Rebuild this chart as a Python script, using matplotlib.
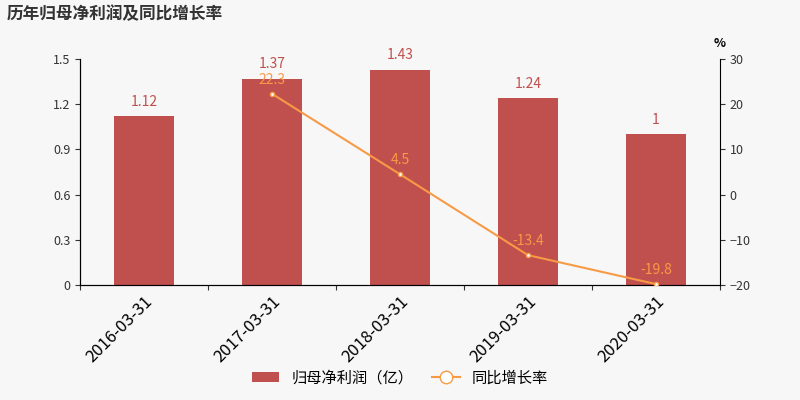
import matplotlib.pyplot as plt
from matplotlib.lines import Line2D
from matplotlib.patches import Patch

plt.rcParams['font.family'] = ['Noto Sans CJK SC', 'DejaVu Sans']

dates = ["2016-03-31", "2017-03-31", "2018-03-31", "2019-03-31", "2020-03-31"]
profit = [1.12, 1.37, 1.43, 1.24, 1.0]
profit_labels = ["1.12", "1.37", "1.43", "1.24", "1"]
growth_x = [1, 2, 3, 4]
growth = [22.3, 4.5, -13.4, -19.8]

bar_color = "#c0504d"
line_color = "#f79a46"
bg = "#f7f7f7"

fig = plt.figure(figsize=(8, 4), dpi=100, facecolor=bg)
ax = fig.add_axes([0.1, 0.2875, 0.8, 0.565])
ax.set_facecolor(bg)
x = list(range(len(dates)))
ax.bar(x, profit, width=0.47, color=bar_color, zorder=2)
for xi, v, lab in zip(x, profit, profit_labels):
    ax.text(xi, v + 0.05, lab, ha="center", va="bottom", color=bar_color, fontsize=10)
ax.set_xlim(-0.5, 4.5)
ax.set_ylim(0, 1.5)
ax.set_yticks([0, 0.3, 0.6, 0.9, 1.2, 1.5])
ax.set_yticklabels(["0", "0.3", "0.6", "0.9", "1.2", "1.5"])
ax.set_xticks([i + 0.5 for i in range(-1, 5)], minor=False)
ax.set_xticklabels([""] * 6)
ax.set_xticks(x, minor=True)
ax.set_xticklabels(dates, minor=True, rotation=45, ha="right", rotation_mode="anchor", fontsize=12)
ax.tick_params(axis="x", which="minor", length=0, pad=6)
ax.tick_params(axis="both", labelsize=9, colors="#333333")
for s in ["top", "right"]:
    ax.spines[s].set_visible(False)

ax2 = ax.twinx()
ax2.set_ylim(-20, 30)
ax2.set_yticks([-20, -10, 0, 10, 20, 30])
ax2.plot(growth_x, growth, color=line_color, marker="o", markersize=3,
         markerfacecolor="white", markeredgecolor=line_color, linewidth=1.5, zorder=3)
for xi, v in zip(growth_x, growth):
    ax2.text(xi, v + 1.5, f"{v}", ha="center", va="bottom", color=line_color, fontsize=10)
ax2.tick_params(axis="y", labelsize=9, colors="#333333")
ax2.spines["top"].set_visible(False)
ax2.text(1.0, 1.04, "%", transform=ax2.transAxes, ha="center", va="bottom", fontsize=9, fontweight="bold")

fig.text(0.008, 0.965, "历年归母净利润及同比增长率", fontsize=12, fontweight="bold", color="#333333", va="center")

handles = [Patch(facecolor=bar_color, label="归母净利润（亿）"),
           Line2D([0], [0], color=line_color, marker="o", markersize=9,
                  markerfacecolor="white", label="同比增长率")]
fig.legend(handles=handles, loc="lower center", bbox_to_anchor=(0.5, 0.0), ncol=2,
           frameon=False, fontsize=11, handlelength=1.8, columnspacing=1.2)

fig.savefig("out.png", facecolor=bg)
